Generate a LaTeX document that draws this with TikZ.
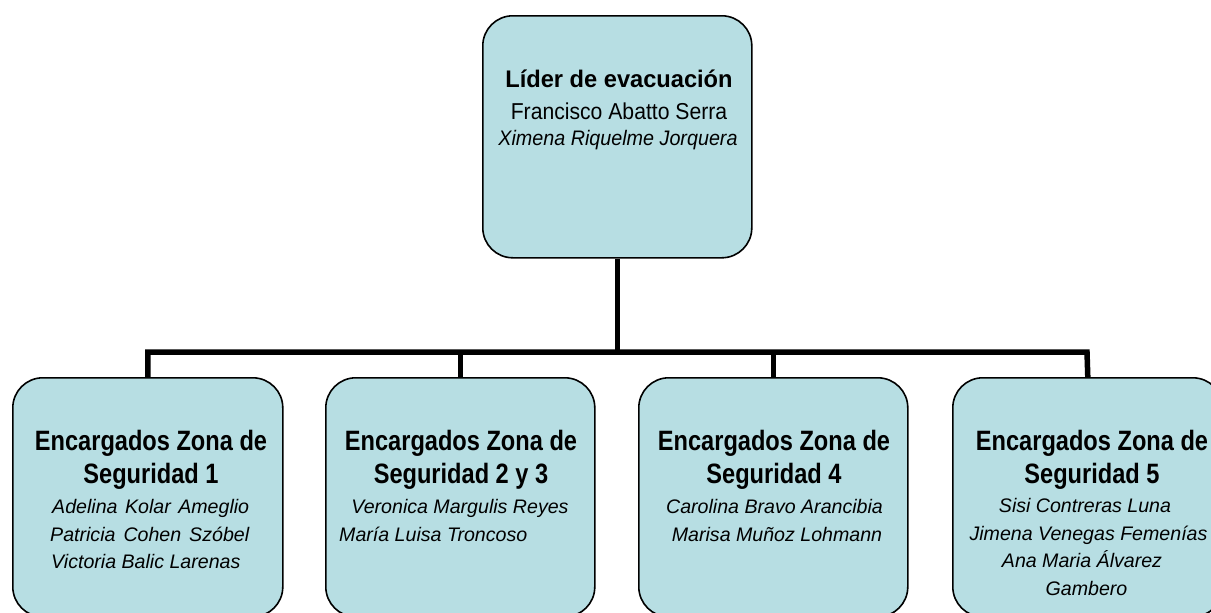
\documentclass[tikz,border=0pt]{standalone}
\usepackage{fontspec}
\setmainfont{Liberation Sans}
\newfontfamily\boldcond{Liberation Sans}[FakeStretch=0.843]
\newfontfamily\titlecond{Liberation Sans}[FakeStretch=0.985]
\newfontfamily\regcond{Liberation Sans}[FakeStretch=0.92]
\newfontfamily\itcond{Liberation Sans}[FakeStretch=0.94]
\definecolor{boxfill}{RGB}{183,222,227}
\tikzset{
  orgbox/.style={draw=black, line width=1.6pt, fill=boxfill, rounded corners=30pt,
    rectangle, inner sep=0pt, anchor=north west},
  conn/.style={line width=5.5pt, line join=miter},
  bt/.style={anchor=base, inner sep=0pt, font=\boldcond\fontsize{28}{32}\selectfont\bfseries},
  tt/.style={anchor=base, inner sep=0pt, font=\titlecond\fontsize{24}{28}\selectfont\bfseries},
  rt/.style={anchor=base, inner sep=0pt, font=\regcond\fontsize{23}{27}\selectfont},
  ti/.style={anchor=base, inner sep=0pt, font=\itcond\fontsize{21}{25}\selectfont\itshape},
  it/.style={anchor=base, inner sep=0pt, font=\fontsize{19.6}{24}\selectfont\itshape},
}
\begin{document}
\begin{tikzpicture}[x=1pt,y=-1pt]
\useasboundingbox (0,0) rectangle (1211,613);
\clip (0,0) rectangle (1211,613);
% boxes
\node[orgbox, minimum width=269pt, minimum height=242pt] (top) at (482,15) {};
\node[orgbox, minimum width=270pt, minimum height=239pt] (b1) at (12,377) {};
\node[orgbox, minimum width=269pt, minimum height=239pt] (b2) at (325,377) {};
\node[orgbox, minimum width=269pt, minimum height=239pt] (b3) at (638,377) {};
\node[orgbox, minimum width=270pt, minimum height=239pt] (b5) at (952,377) {};
% connectors
\coordinate (hl) at (148,352);
\coordinate (hr) at (1087,352);
\draw[conn] (top.south) -- (top.south |- hl);
\draw[conn] (b1.north) |- (hr) -- (b5.north);
\draw[conn] (b2.north) -- (b2.north |- hl);
\draw[conn] (b3.north) -- (b3.north |- hl);
% top text
\node[tt] (t1) at (619,87) {Líder de evacuación};
\node[rt] (t2) at (619,119) {Francisco Abatto Serra};
\node[ti] (t3) at (618,145) {Ximena Riquelme Jorquera};
% box 1
\node[bt] (a1) at (151,450) {Encargados Zona de};
\node[bt] (a2) at (151,483) {Seguridad 1};
\node[it, anchor=base west] (a3) at (52,513) {\makebox[197pt][s]{Adelina Kolar Ameglio}};
\node[it, anchor=base west] (a4) at (50,541) {\makebox[199pt][s]{Patricia Cohen Szóbel}};
\node[it, anchor=base west] (a5) at (51,568) {Victoria Balic Larenas};
% box 2
\node[bt] (c1) at (461,450) {Encargados Zona de};
\node[bt] (c2) at (461,483) {Seguridad 2 y 3};
\node[it] (c3) at (460,513) {Veronica Margulis Reyes};
\node[it, anchor=base west] (c4) at (339,541) {María Luisa Troncoso};
% box 3
\node[bt] (d1) at (774,450) {Encargados Zona de};
\node[bt] (d2) at (774,483) {Seguridad 4};
\node[it] (d3) at (774.5,513) {Carolina Bravo Arancibia};
\node[it] (d4) at (777,541) {Marisa Muñoz Lohmann};
% box 5
\node[bt] (e1) at (1092,450) {Encargados Zona de};
\node[bt] (e2) at (1092,483) {Seguridad 5};
\node[it] (e3) at (1085,512) {Sisi Contreras Luna};
\node[it] (e4) at (1088.5,540) {Jimena Venegas Femenías};
\node[it] (e5) at (1082,567) {Ana Maria Álvarez};
\node[it] (e6) at (1086.5,595) {Gambero};
\end{tikzpicture}
\end{document}
